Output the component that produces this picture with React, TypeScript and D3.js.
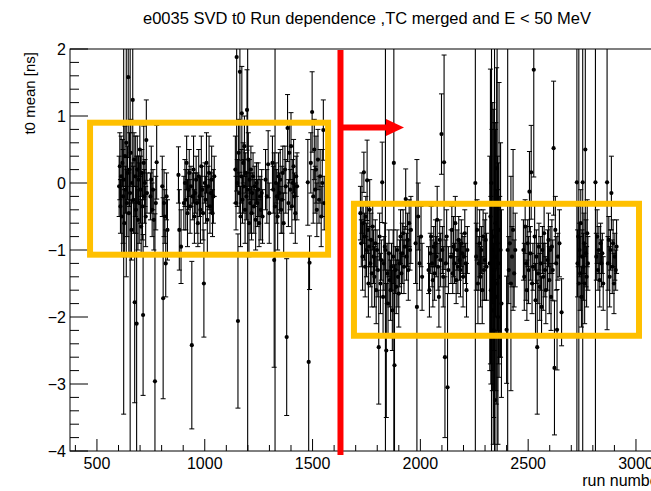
import React from "react";
import * as d3 from "d3";

const W = 651;
const H = 491;
const frame = { left: 70, top: 49, right: 664, bottom: 451 };

const titleText = "e0035 SVD t0 Run dependence ,TC merged and E < 50 MeV";
const xLabel = "run number";
const yLabel = "t0 mean [ns]";
const xDomain = [375, 3130];
const yDomain = [-4, 2];
const xMajorTicks = [500, 1000, 1500, 2000, 2500, 3000];
const yMajorTicks = [-4, -3, -2, -1, 0, 1, 2];

// [run, t0 mean, error]
const segment1: [number, number, number][] = [
  [603, -0.05, 0.45], [606, 0.25, 0.5], [609, -0.35, 0.4], [612, 0.1, 0.6], [615, -0.5, 0.55],
  [618, 0.3, 0.35], [621, -0.2, 0.7], [624, 0.05, 3.5], [627, -0.6, 0.5], [630, 0.4, 0.45],
  [633, -0.1, 0.35], [636, 0.6, 2.0], [639, -0.3, 0.5], [642, 0.15, 0.4], [645, 1.58, 1.2],
  [648, -0.45, 0.6], [651, 0.2, 0.55], [654, -0.15, 4.0], [657, 0.45, 0.5], [660, -0.7, 0.45],
  [663, 0.0, 0.3], [666, 1.24, 1.5], [669, -0.25, 0.5], [672, 0.35, 0.4], [675, -1.78, 1.5],
  [678, 0.1, 0.6], [681, -0.4, 0.35], [684, -2.1, 2.5], [687, 0.2, 0.5], [690, -0.55, 0.45],
  [693, 0.05, 0.35], [696, -0.3, 0.6], [699, 0.5, 0.4], [702, -0.1, 0.5], [705, -0.65, 0.4],
  [708, 0.15, 0.35], [711, -0.35, 0.5], [714, -1.97, 1.2], [717, 0.3, 0.55], [720, -0.2, 0.4],
  [723, 0.0, 0.35], [726, -0.5, 0.45], [729, 0.64, 0.6], [732, -0.15, 0.3],
  [748, -0.2, 0.35], [752, 0.05, 0.5], [756, -0.4, 0.4], [760, -0.1, 0.3], [764, -0.55, 0.45],
  [769, -2.96, 2.5], [773, -0.3, 0.4], [777, 0.31, 0.55],
  [803, -0.05, 0.45], [807, -1.72, 1.5], [811, -0.3, 0.5], [815, -0.5, 0.4], [819, -1.2, 0.5],
  [823, -0.2, 0.35], [827, -0.7, 0.45],
  [878, 0.12, 0.42], [882, -0.7, 0.6], [890, -0.95, 0.55], [903, -0.3, 0.4], [908, 0.0, 0.35],
  [912, -0.25, 0.45], [916, 0.3, 0.4], [920, -0.45, 0.5], [924, -0.1, 0.3], [928, 0.15, 0.35],
  [932, -0.35, 0.4], [936, -0.05, 0.3], [940, -2.42, 1.25], [944, -0.2, 0.35], [948, 0.2, 0.5],
  [952, -0.5, 0.4], [956, -0.15, 0.3], [960, 0.05, 0.35], [964, -0.3, 0.45], [968, -0.6, 0.35],
  [972, 0.1, 0.4], [976, -0.2, 0.3], [980, -0.4, 0.5], [984, 0.25, 0.45], [988, -0.1, 0.35],
  [992, -0.45, 0.4], [996, -1.5, 0.8], [1000, 0.0, 0.3], [1004, -0.25, 0.35], [1008, 0.3, 0.45],
  [1012, -0.55, 0.5], [1016, -0.05, 0.3], [1020, 0.15, 0.55], [1024, -0.35, 0.4], [1028, -0.15, 0.3],
  [1032, 0.05, 0.5], [1036, -0.45, 0.35], [1040, -0.2, 0.4], [1044, 0.1, 0.3],
  [1142, 0.2, 0.5], [1145, -0.3, 0.4], [1148, 1.88, 2.0], [1151, 0.0, 0.35], [1154, -2.06, 1.3],
  [1157, 0.45, 0.5], [1160, -0.15, 0.3], [1163, 1.66, 1.5], [1166, -0.5, 0.45], [1169, 0.1, 0.4],
  [1172, 1.04, 0.7], [1175, -0.25, 0.35], [1178, 0.3, 0.3], [1181, -0.05, 0.4], [1184, 0.55, 0.45],
  [1187, -0.4, 0.5], [1190, 0.15, 0.3], [1193, -0.2, 0.35], [1196, 1.09, 0.6], [1199, -0.1, 4.5],
  [1202, 0.35, 0.4], [1205, -0.6, 0.5], [1208, 0.05, 0.3], [1211, -0.3, 0.45], [1214, 0.2, 0.35],
  [1217, -0.45, 0.4], [1220, -0.15, 0.3], [1224, 0.1, 0.35], [1228, -0.35, 0.4], [1232, -0.05, 0.3],
  [1236, -0.55, 0.45], [1240, 0.0, 0.3], [1244, -0.3, 0.35], [1248, -0.1, 0.4], [1252, -0.6, 0.35],
  [1256, -0.2, 0.3], [1260, -0.4, 0.45], [1264, -0.15, 0.35], [1268, -0.5, 0.4],
  [1282, 0.05, 0.45], [1288, -0.2, 0.4], [1294, 0.28, 0.5], [1299, -0.45, 0.45],
  [1314, 0.3, 0.4], [1318, -0.1, 0.35], [1322, -1.15, 1.6], [1326, -0.35, 4.5], [1330, 0.0, 0.3],
  [1334, -0.2, 0.4], [1338, -0.5, 0.5], [1342, 0.1, 0.35], [1346, -0.15, 0.3], [1350, 0.05, 0.45],
  [1354, -0.4, 0.35], [1358, -0.25, 0.5], [1362, 0.15, 0.4], [1366, -0.6, 0.45], [1372, 0.2, 0.35],
  [1376, -0.05, 0.4], [1380, -2.3, 1.17], [1384, 0.82, 0.5], [1388, -0.3, 0.35], [1392, 0.45, 0.45],
  [1396, -0.1, 0.3], [1400, 0.55, 0.5], [1404, -0.35, 0.4], [1408, 0.0, 0.35], [1412, 0.25, 0.4],
  [1416, -0.2, 0.35], [1420, -0.45, 0.45], [1424, 0.1, 0.3], [1428, -0.05, 0.5],
  [1478, 0.01, 0.64], [1482, -2.67, 1.6], [1486, -1.19, 0.4], [1492, 0.3, 0.45], [1498, 1.06, 0.6],
  [1503, -0.2, 0.4], [1508, 0.5, 0.45], [1512, -0.1, 0.35], [1516, 0.2, 0.5], [1520, -0.4, 0.4],
  [1525, 0.35, 0.45], [1530, -0.25, 0.35], [1535, 0.1, 0.4], [1540, -0.5, 0.45], [1545, 0.0, 0.5],
  [1550, 0.79, 0.45], [1554, -0.3, 0.4],
];

const segment2: [number, number, number][] = [
  [1722, -0.45, 0.4], [1726, -0.9, 0.35], [1729, -0.3, 0.45], [1732, -1.1, 0.5], [1735, -0.6, 0.3],
  [1738, 0.16, 0.3], [1741, -0.8, 0.35], [1744, -1.25, 0.45], [1747, -0.5, 0.3], [1750, -1.0, 0.4],
  [1753, 0.04, 0.6], [1756, -0.7, 0.35], [1759, -1.5, 0.5], [1762, -0.95, 0.3], [1765, -0.4, 0.45],
  [1768, -1.2, 0.35], [1771, -0.85, 0.4], [1775, -1.35, 0.5], [1779, -0.65, 0.35],
  [1783, -1.1, 0.4], [1787, -1.4, 0.45], [1791, -0.9, 0.35], [1795, -1.6, 0.5], [1799, -1.0, 0.3],
  [1803, -1.3, 0.4], [1807, -2.45, 0.85], [1811, -0.8, 0.35], [1815, -1.5, 0.45], [1819, -1.15, 0.3],
  [1823, 0.01, 0.6], [1827, -1.7, 0.55], [1831, -1.2, 0.4], [1835, -0.95, 0.35], [1838, -1.0, 5.0],
  [1842, -2.5, 1.0], [1846, -1.35, 0.45], [1850, -1.8, 0.5], [1854, -1.05, 0.35], [1858, -1.45, 0.4],
  [1862, -1.6, 0.45], [1866, -1.25, 0.35], [1870, -1.9, 0.6], [1874, -1.1, 0.4], [1877, 0.3, 4.5],
  [1880, -2.72, 1.5], [1884, -1.3, 0.35], [1888, -1.55, 0.4], [1892, -1.0, 0.3], [1896, -1.4, 0.45],
  [1900, -1.65, 0.5], [1904, -1.2, 0.35], [1908, -0.8, 0.4], [1912, -1.35, 0.3], [1916, -1.05, 0.45],
  [1920, -0.75, 0.35], [1924, -1.25, 0.4], [1928, -0.95, 0.3], [1932, -0.24, 0.45], [1936, -1.1, 0.35],
  [1940, -0.85, 0.4], [1944, -1.3, 0.45], [1948, -0.6, 0.35], [1952, -1.0, 0.3], [1956, -0.7, 0.5],
  [1978, -0.9, 0.6], [1984, -1.85, 2.2], [1990, -0.5, 0.5], [1996, -1.2, 0.4], [2003, -0.8, 0.45],
  [2008, -1.4, 0.5],
  [2038, -1.3, 0.35], [2042, -1.6, 0.4], [2046, -1.05, 0.3], [2050, -0.8, 0.45], [2054, -1.2, 0.35],
  [2058, -1.45, 0.4], [2062, -0.95, 0.3], [2066, -1.35, 0.4], [2070, -0.9, 0.35], [2074, -1.1, 0.3],
  [2078, -0.55, 0.5], [2082, -1.25, 0.35], [2086, -1.7, 0.45], [2090, -0.85, 0.3], [2094, -1.15, 0.4],
  [2098, 0.73, 0.6], [2102, -1.0, 0.35], [2106, -1.4, 0.45], [2110, 0.31, 1.6], [2114, -2.6, 1.2],
  [2118, -1.2, 0.35], [2122, -0.8, 0.4], [2126, -3.05, 1.4], [2130, -1.3, 0.35],
  [2142, -1.1, 0.4], [2146, -0.7, 0.35], [2150, -1.35, 0.3], [2154, -0.95, 0.45], [2158, -1.2, 0.3],
  [2162, -0.6, 0.4], [2166, -1.45, 0.35], [2170, -1.0, 0.3], [2174, -1.25, 0.4], [2178, -0.85, 0.35],
  [2182, -1.15, 0.3], [2186, -1.3, 0.4], [2190, -0.9, 0.35], [2194, -1.05, 0.3], [2198, -1.4, 0.45],
  [2202, -1.1, 0.3], [2206, -0.75, 0.35], [2210, -1.2, 0.3], [2214, -1.6, 0.4], [2218, -1.0, 0.35],
  [2255, 0.0, 4.5], [2259, -1.1, 0.5], [2263, -0.7, 0.45], [2267, -1.5, 0.6], [2271, -1.2, 0.4],
  [2275, -0.9, 0.5], [2279, -1.4, 0.45], [2283, -1.0, 0.35], [2287, -1.6, 0.5], [2291, -0.8, 0.4],
  [2295, -1.3, 0.45], [2299, -1.15, 0.6], [2303, -0.85, 0.4], [2307, -1.25, 0.5],
  [2322, -1.2, 1.6], [2325, -0.5, 2.2], [2327, -1.6, 1.4], [2330, 0.0, 5.0], [2332, -1.0, 1.8],
  [2334, -1.9, 1.2], [2336, -0.3, 1.5], [2338, -1.4, 2.5], [2340, -2.2, 1.3], [2342, -0.8, 1.7],
  [2344, -1.3, 5.0], [2346, -3.24, 1.8], [2348, -0.6, 1.4], [2350, -1.1, 2.0], [2352, -1.7, 1.6],
  [2354, 0.22, 1.5], [2356, -1.5, 5.0], [2358, -0.9, 1.3], [2360, -2.0, 1.9], [2362, -1.2, 1.5],
  [2365, -0.7, 2.2], [2368, -1.4, 1.2], [2372, -1.0, 1.6], [2376, -1.8, 1.4],
  [2400, -2.19, 0.8], [2405, -1.0, 5.0], [2410, -1.3, 0.5], [2415, -0.9, 0.6], [2420, -1.5, 1.6],
  [2425, -1.1, 0.45], [2430, -0.7, 1.2], [2435, -1.35, 0.5], [2440, -1.0, 0.55],
  [2478, -1.0, 0.45], [2482, -1.4, 0.5], [2486, -0.65, 0.4], [2490, -1.2, 0.55], [2494, -1.6, 0.45],
  [2498, -0.9, 0.35], [2502, -1.3, 0.5], [2506, -0.13, 0.6], [2510, -1.05, 0.4], [2514, 0.16, 0.7],
  [2518, -1.5, 0.45], [2522, -1.25, 0.35], [2526, 1.69, 1.6], [2530, -0.8, 0.5], [2534, -1.75, 0.55],
  [2538, -1.1, 0.4], [2542, -2.45, 1.0], [2546, -1.35, 0.45], [2550, -0.95, 0.35], [2554, -1.55, 0.5],
  [2558, -1.2, 0.4], [2562, -1.85, 0.45], [2566, -1.0, 0.35], [2570, -1.4, 0.5], [2574, -0.75, 0.45],
  [2578, -1.3, 0.4], [2582, -1.6, 0.5],
  [2590, -1.15, 0.45], [2594, -0.85, 0.4], [2598, -1.45, 0.5], [2602, -1.0, 0.35], [2606, -1.7, 0.5],
  [2610, -0.95, 0.4], [2614, -1.3, 0.45], [2618, 0.52, 1.0], [2622, -2.76, 1.0], [2626, -0.7, 0.5],
  [2630, -1.2, 0.4], [2634, -2.19, 0.6], [2638, -1.1, 0.35], [2645, -0.9, 0.5], [2655, -1.93, 0.5],
  [2726, 0.01, 5.0], [2729, -1.2, 0.5], [2732, -0.8, 0.45], [2735, -1.5, 5.0], [2738, -1.0, 0.4],
  [2741, -1.35, 0.55], [2744, -0.6, 0.5], [2747, -1.7, 0.45], [2750, -1.1, 0.4], [2753, 0.01, 5.0],
  [2756, -1.25, 0.5], [2759, -0.9, 0.45], [2762, -1.5, 0.6], [2765, 0.5, 1.6], [2768, -1.05, 0.5],
  [2771, -1.4, 0.45], [2774, -0.75, 0.5], [2777, -1.2, 0.4],
  [2812, 0.01, 5.0], [2816, -1.1, 0.35], [2820, -0.8, 0.4], [2824, -1.3, 0.3], [2828, -1.0, 0.35],
  [2832, -1.45, 0.4], [2836, -0.9, 0.3], [2840, -1.2, 0.35], [2844, -1.05, 0.3], [2848, -1.5, 0.4],
  [2866, 0.01, 2.2], [2870, -1.2, 0.4], [2874, -0.85, 0.35], [2878, -1.4, 0.45], [2882, -1.0, 0.3],
  [2886, -0.15, 0.55], [2890, -1.25, 0.4], [2894, -0.9, 0.35], [2898, -1.5, 0.45], [2902, -1.1, 0.35],
  [2906, -1.3, 0.3], [2910, -0.95, 0.4],
];

// annotations in data coordinates: [runMin, runMax, t0Max, t0Min]
const boxBefore = [468, 1572, 0.9, -1.07];
const boxAfter = [1692, 3014, -0.31, -2.28];
const changeRun = 1629.5;
const arrowEndRun = 1924;
const arrowT0 = 0.83;

const FONT = "'Liberation Sans', Arial, Helvetica, sans-serif";
const fmt = (v: number) => (v < 0 ? "\u2212" + Math.abs(v) : String(v));

export default function App() {
  const x = d3.scaleLinear().domain(xDomain).range([frame.left, frame.right]);
  const y = d3.scaleLinear().domain(yDomain).range([frame.bottom, frame.top]);
  const points = [...segment1, ...segment2];
  const xMinor = d3.range(400, 3101, 100).filter((v) => !xMajorTicks.includes(v));
  const yMinor = d3.range(-40, 21, 2).map((v) => v / 10).filter((v) => !yMajorTicks.includes(v));
  const fw = frame.right - frame.left;
  const fh = frame.bottom - frame.top;
  const cap = 2.5;
  const orange = "#FFC000";

  const arrowY = y(arrowT0);
  const arrowStart = x(changeRun) + 2;
  const arrowTip = x(arrowEndRun);

  return (
    <svg width={W} height={H} style={{ position: "absolute", left: 0, top: 0, background: "#fff" }} fontFamily={FONT}>
      <rect x={0} y={0} width={W} height={H} fill="#fff" />
      <defs>
        <clipPath id="frameClip">
          <rect x={frame.left} y={frame.top} width={fw} height={fh} />
        </clipPath>
      </defs>
      <text x={(frame.left + frame.right) / 2} y={24} textAnchor="middle" fontSize={16.5} fill="#000">
        {titleText}
      </text>
      <g clipPath="url(#frameClip)">
        {points.map(([r, m, e], i) => {
          const cx = x(r);
          const y1 = y(m + e);
          const y2 = y(m - e);
          return (
            <g key={i}>
              <line x1={cx} x2={cx} y1={y1} y2={y2} stroke="#000" strokeWidth={1.1} />
              <line x1={cx - cap} x2={cx + cap} y1={y1} y2={y1} stroke="#000" strokeWidth={1} />
              <line x1={cx - cap} x2={cx + cap} y1={y2} y2={y2} stroke="#000" strokeWidth={1} />
            </g>
          );
        })}
        {points.map(([r, m], i) => (
          <circle key={"p" + i} cx={x(r)} cy={y(m)} r={2.1} fill="#000" />
        ))}
      </g>
      {/* frame */}
      <rect x={frame.left} y={frame.top} width={fw} height={fh} fill="none" stroke="#000" strokeWidth={1} />
      {/* y ticks */}
      {yMajorTicks.map((v) => (
        <g key={"ym" + v}>
          <line x1={frame.left} x2={frame.left + 18} y1={y(v)} y2={y(v)} stroke="#000" />
          <text x={frame.left - 4} y={y(v) + 6} textAnchor="end" fontSize={16} fill="#000">
            {fmt(v)}
          </text>
        </g>
      ))}
      {yMinor.map((v) => (
        <line key={"yn" + v} x1={frame.left} x2={frame.left + 9} y1={y(v)} y2={y(v)} stroke="#000" />
      ))}
      {/* x ticks */}
      {xMajorTicks.map((v) => (
        <g key={"xm" + v}>
          <line x1={x(v)} x2={x(v)} y1={frame.bottom} y2={frame.bottom - 12} stroke="#000" />
          <text x={x(v)} y={frame.bottom + 18} textAnchor="middle" fontSize={16} fill="#000">
            {fmt(v)}
          </text>
        </g>
      ))}
      {xMinor.map((v) => (
        <line key={"xn" + v} x1={x(v)} x2={x(v)} y1={frame.bottom} y2={frame.bottom - 6} stroke="#000" />
      ))}
      <text x={frame.right} y={486} textAnchor="end" fontSize={16} fill="#000">
        {xLabel}
      </text>
      <text transform={`translate(35, ${frame.top + 3}) rotate(-90)`} textAnchor="end" fontSize={15} fill="#000">
        {yLabel}
      </text>
      {/* annotations */}
      <rect
        x={x(boxBefore[0])}
        y={y(boxBefore[2])}
        width={x(boxBefore[1]) - x(boxBefore[0])}
        height={y(boxBefore[3]) - y(boxBefore[2])}
        fill="none"
        stroke={orange}
        strokeWidth={6}
      />
      <rect
        x={x(boxAfter[0])}
        y={y(boxAfter[2])}
        width={x(boxAfter[1]) - x(boxAfter[0])}
        height={y(boxAfter[3]) - y(boxAfter[2])}
        fill="none"
        stroke={orange}
        strokeWidth={6}
      />
      <line x1={x(changeRun)} x2={x(changeRun)} y1={frame.top + 1} y2={frame.bottom + 4} stroke="#FF0000" strokeWidth={6} />
      <line x1={arrowStart} x2={arrowTip - 17} y1={arrowY} y2={arrowY} stroke="#FF0000" strokeWidth={6} />
      <path
        d={`M${arrowTip - 18},${arrowY - 8.5} L${arrowTip},${arrowY} L${arrowTip - 18},${arrowY + 8.5} Z`}
        fill="#FF0000"
      />
    </svg>
  );
}
